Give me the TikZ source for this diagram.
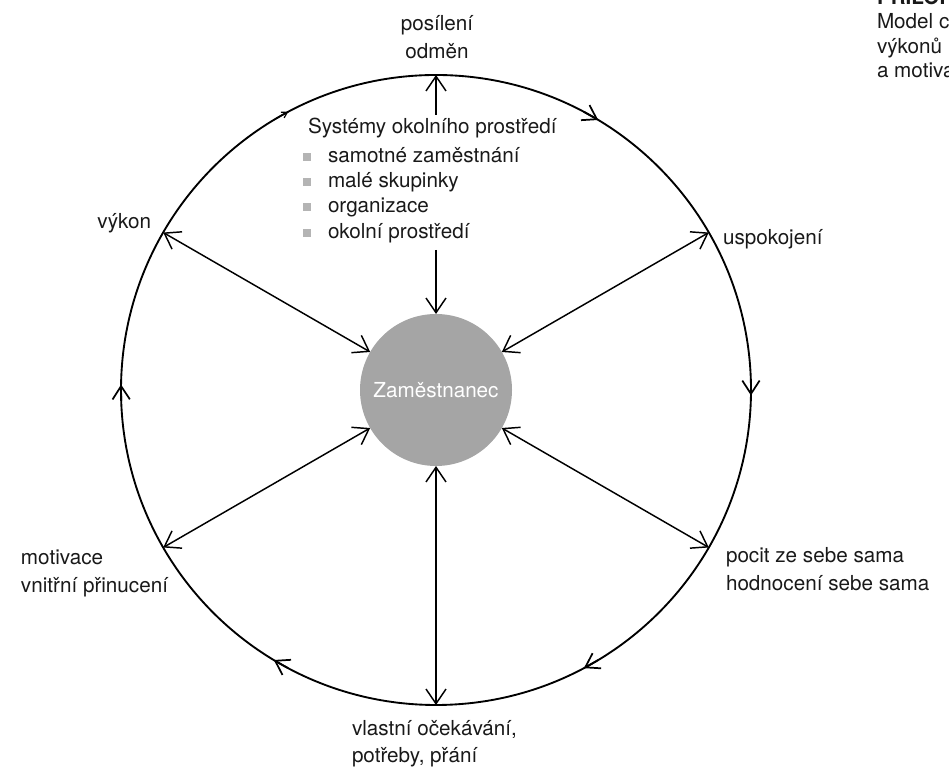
\documentclass[tikz,border=0pt]{standalone}
\usepackage{fontspec}
\setmainfont{TeX Gyre Heros}
\usetikzlibrary{arrows.meta}
\definecolor{empgray}{RGB}{165,165,165}
\definecolor{bulletgray}{RGB}{180,180,180}
\begin{document}
\begin{tikzpicture}[x=0.75pt,y=0.75pt,
  lbl/.style={font=\fontsize{15.5}{21}\selectfont, inner sep=0pt, outer sep=0pt, text=black!90},
  listlbl/.style={lbl},
  spoke/.style={line width=1.1pt, arrows={Straight Barb[length=11pt,width=15pt]-Straight Barb[length=11pt,width=15pt]}},
  single/.style={line width=1.1pt, arrows={-Straight Barb[length=11pt,width=15pt]}},
  cw/.style={line width=1.3pt, arrows={-Straight Barb[length=10pt,width=13pt]}},
  cwsmall/.style={line width=0.9pt, arrows={-Straight Barb[length=4pt,width=5pt]}},
  sq/.style={fill=bulletgray, minimum size=6.5pt, inner sep=0pt, outer sep=0pt}]
\useasboundingbox (0,0) rectangle (949,777);
\clip (0,0) rectangle (949,777);

% outer circle and central node
\node[circle, draw, line width=1.4pt, minimum size=472.5pt, inner sep=0pt, outer sep=0pt] (O) at (436,387) {};
\node[circle, fill=empgray, minimum size=114pt, inner sep=0pt, outer sep=0pt,
      font=\fontsize{15.5}{21}\selectfont, text=white] (E) at (436,387) {Zaměstnanec};

% spokes
\draw[spoke] (E.30) -- (O.30);
\draw[spoke] (E.150) -- (O.150);
\draw[spoke] (E.210) -- (O.210);
\draw[spoke] (E.270) -- (O.270);
\draw[spoke] (E.330) -- (O.330);
\coordinate (topA) at (436,662);
\coordinate (topB) at (436,527);
\draw[single] (topA) -- (O.90);
\draw[single] (topB) -- (E.90);

% clockwise arrows on the circle
\draw[cwsmall] (O.121) -- (O.118);
\draw[cw] (O.62) -- (O.59);
\draw[cw] (O.1.5) -- (O.-1.5);
\draw[cw] (O.-59) -- (O.-62);
\draw[cw] (O.242) -- (O.239);
\draw[cw] (O.182) -- (O.179);

% labels
\node[lbl, anchor=base] (posileni) at (437,746) {posílení};
\node[lbl, anchor=base] (odmen) at (437,718) {odměn};

\node[lbl, anchor=base west] (sys) at (308,643) {Systémy okolního prostředí};
\node[listlbl, anchor=base west] (b1) at (328,614) {samotné zaměstnání};
\node[listlbl, anchor=base west] (b2) at (328,589) {malé skupinky};
\node[listlbl, anchor=base west] (b3) at (328,564) {organizace};
\node[listlbl, anchor=base west] (b4) at (328,538) {okolní prostředí};
\node[sq] (s1) at (307,620) {};
\node[sq] (s2) at (307,595) {};
\node[sq] (s3) at (307,570) {};
\node[sq] (s4) at (307,544) {};

\node[lbl, anchor=base east] (vykon) at (151,548) {výkon};
\node[lbl, anchor=base west] (uspok) at (723,532) {uspokojení};
\node[lbl, anchor=base west] (motiv) at (21,212) {motivace};
\node[lbl, anchor=base west] (vnitr) at (21,184) {vnitřní přinucení};
\node[lbl, anchor=base west] (pocit) at (726,214) {pocit ze sebe sama};
\node[lbl, anchor=base west] (hodn) at (726,186) {hodnocení sebe sama};
\node[lbl, anchor=base west] (vlast) at (352,41) {vlastní očekávání,};
\node[lbl, anchor=base west] (potr) at (352,14) {potřeby, přání};

% top-right caption (cut off by the page edge, as in the reference)
\node[lbl, anchor=base west, font=\fontsize{15.5}{21}\selectfont\bfseries] (pril) at (877,772) {PŘÍLOHA};
\node[lbl, anchor=base west] (model) at (877,748) {Model c};
\node[lbl, anchor=base west] (vykonu) at (877,723) {výkonů};
\node[lbl, anchor=base west] (amot) at (877,699) {a motiva};
\end{tikzpicture}
\end{document}
